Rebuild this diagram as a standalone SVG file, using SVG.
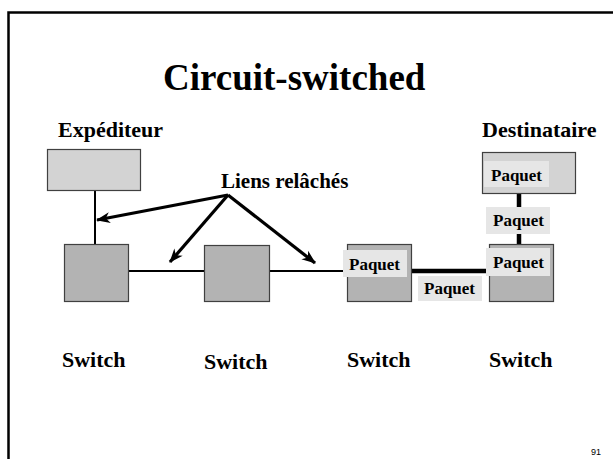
<svg xmlns="http://www.w3.org/2000/svg" width="613" height="459" viewBox="0 0 613 459">
  <style>
    .lbl { font-family: "Liberation Serif", "Times New Roman", serif; font-weight: bold; fill: #000; }
    .title { font-size: 37px; }
    .big { font-size: 22px; }
    .pk { font-size: 17px; }
    .host { fill: #d3d3d3; stroke: #404040; stroke-width: 1.2; }
    .sw { fill: #b3b3b3; stroke: #404040; stroke-width: 1.2; }
    .pkbg { fill: #e6e6e6; }
    .thin { stroke: #000; stroke-width: 2; fill: none; }
    .thick { stroke: #000; stroke-width: 4.5; fill: none; }
    .arrow { stroke: #000; stroke-width: 3.2; fill: none; marker-end: url(#head); }
  </style>
  <defs>
    <marker id="head" markerUnits="userSpaceOnUse" viewBox="-14 -7 16 14" refX="0" refY="0" markerWidth="16" markerHeight="14" orient="auto">
      <path d="M1,0 L-13,-5.5 L-9,0 L-13,5.5 Z" fill="#000"/>
    </marker>
  </defs>

  <rect width="613" height="459" fill="#fff"/>

  <!-- slide frame -->
  <path d="M8.5,459 L8.5,12.5 L613,12.5" stroke="#000" stroke-width="2.5" fill="none"/>

  <text class="lbl title" x="163" y="90">Circuit-switched</text>

  <!-- links and callout arrows -->
  <g id="connectors">
    <line class="thin" x1="95" y1="191" x2="95" y2="244"/>
    <line class="thin" x1="129" y1="271" x2="204" y2="271"/>
    <line class="thin" x1="270" y1="271" x2="347" y2="271"/>
    <line class="thick" x1="412" y1="271" x2="489" y2="271"/>
    <line class="thick" x1="519" y1="194" x2="519" y2="244"/>
    <line class="arrow" x1="228" y1="195" x2="97" y2="220"/>
    <line class="arrow" x1="228" y1="195" x2="170" y2="262"/>
    <line class="arrow" x1="228" y1="195" x2="315" y2="263"/>
  </g>

  <g id="sender">
    <text class="lbl big" x="58" y="137">Expéditeur</text>
    <rect class="host" x="47.5" y="149.5" width="93" height="41"/>
  </g>

  <g id="receiver">
    <text class="lbl big" x="482" y="137">Destinataire</text>
    <rect class="host" x="482.5" y="152.5" width="93" height="41"/>
    <rect class="pkbg" x="484" y="161" width="65" height="26"/>
    <text class="lbl pk" x="491" y="181">Paquet</text>
  </g>

  <g id="relaxed-label">
    <text class="lbl" font-size="21" x="221" y="188">Liens relâchés</text>
  </g>

  <g id="switch1">
    <rect class="sw" x="64.5" y="244.5" width="64" height="57"/>
    <text class="lbl big" x="62" y="367">Switch</text>
  </g>

  <g id="switch2">
    <rect class="sw" x="204.5" y="245.5" width="65" height="56"/>
    <text class="lbl big" x="204" y="368.5">Switch</text>
  </g>

  <g id="switch3">
    <rect class="sw" x="347.5" y="244.5" width="64" height="57"/>
    <rect class="pkbg" x="343" y="250" width="64" height="27"/>
    <text class="lbl pk" x="349" y="270">Paquet</text>
    <text class="lbl big" x="347" y="367">Switch</text>
  </g>

  <g id="switch4">
    <rect class="sw" x="489.5" y="244.5" width="64" height="57"/>
    <rect class="pkbg" x="486" y="248" width="64" height="28"/>
    <text class="lbl pk" x="493" y="268">Paquet</text>
    <text class="lbl big" x="489" y="367">Switch</text>
  </g>

  <g id="packet-vertical">
    <rect class="pkbg" x="486" y="207" width="64" height="27"/>
    <text class="lbl pk" x="493" y="226">Paquet</text>
  </g>

  <g id="packet-horizontal">
    <rect class="pkbg" x="418" y="276" width="64" height="25"/>
    <text class="lbl pk" x="424" y="294">Paquet</text>
  </g>

  <text x="591" y="455" font-family="Liberation Sans, Arial, sans-serif" font-size="9" fill="#000">91</text>
</svg>
